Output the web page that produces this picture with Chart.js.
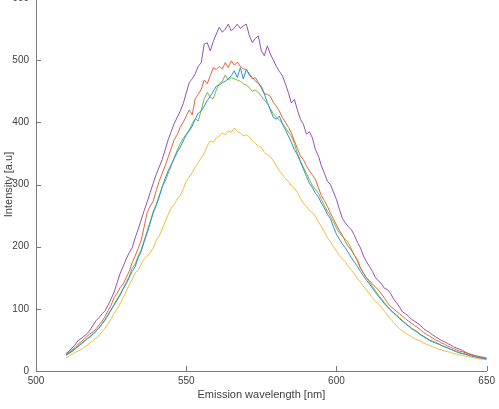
<!DOCTYPE html>
<html>
<head>
<meta charset="utf-8">
<script src="https://cdn.jsdelivr.net/npm/chart.js@4/dist/chart.umd.min.js"></script>
<style>
html,body{margin:0;padding:0;background:#fff;overflow:hidden;}
#wrap{position:absolute;left:0;top:-15px;width:499px;height:424px;}
</style>
</head>
<body>
<div id="wrap"><canvas id="c"></canvas></div>
<script>
const wavelengths = [];
for (let w = 510; w <= 650; w++) wavelengths.push(w);

const xTicks = [500, 550, 600, 650];
const yTicks = [0, 100, 200, 300, 400, 500, 600];

const seriesPurple = [28,32,37,42,49,52,56,60,66,74,81,86,92,97,106,116,127,142,157,168,180,190,198,214,228,243,258,272,287,302,316,328,340,356,372,385,398,408,418,430,447,464,470,478,490,496,526,528,515,530,542,553,545,550,558,547,552,558,551,555,558,540,528,535,539,515,507,523,510,500,490,482,475,462,448,431,437,420,405,397,381,385,375,356,346,330,318,305,300,288,276,260,245,238,232,227,218,207,198,185,176,168,160,150,145,140,133,131,125,116,110,103,95,92,88,83,80,77,73,68,65,62,58,55,52,49,47,44,42,39,37,35,33,30,28,26,25,23,22,21,20];

const seriesOrange = [27,30,34,38,43,47,51,56,60,63,68,74,80,88,97,106,118,125,134,140,150,160,174,185,197,210,232,255,265,273,290,305,318,330,344,358,372,380,392,400,410,420,412,438,445,453,468,462,475,488,485,490,486,496,488,499,492,497,490,486,485,476,470,472,464,455,446,445,442,432,426,418,408,400,392,383,370,358,346,340,330,322,315,308,295,282,274,265,254,245,235,226,218,208,200,194,186,179,166,157,150,145,140,135,130,124,117,110,104,100,96,92,88,84,80,77,73,70,66,62,59,56,53,50,48,45,43,40,38,36,34,32,31,29,28,26,25,24,23,22,21];

const seriesBlue = [26,29,32,36,40,44,48,52,55,59,64,69,76,82,90,98,106,114,122,132,140,150,160,168,182,192,208,222,238,254,266,280,296,310,322,332,342,352,360,370,380,386,394,405,415,418,426,435,442,450,458,460,464,466,470,475,483,472,488,470,485,478,472,467,462,458,446,432,420,408,405,410,398,388,378,368,356,348,337,325,313,302,295,286,280,270,262,252,245,232,220,212,204,198,190,182,175,168,160,153,146,140,133,126,120,114,108,103,98,93,89,84,80,76,72,68,65,62,58,55,52,49,47,45,43,41,39,37,35,33,31,29,28,27,25,24,23,22,21,20,19];

const seriesGreen = [25,28,31,35,39,43,47,51,56,60,65,70,76,83,91,99,107,116,124,133,142,152,165,172,185,195,210,225,240,256,268,282,296,305,318,330,343,355,366,374,381,388,398,406,402,420,438,448,440,438,452,462,466,476,468,472,470,468,466,462,460,456,450,452,448,442,436,430,422,414,408,404,398,392,384,378,366,350,338,328,318,308,298,292,286,276,266,257,249,240,230,222,216,212,206,196,186,176,165,158,150,143,136,129,122,116,110,104,99,94,90,86,81,77,73,69,66,63,59,56,53,50,48,46,44,41,39,37,35,33,31,30,28,27,26,25,23,22,21,20,20];

const seriesYellow = [21,24,27,30,32,35,38,41,45,49,53,57,63,69,76,84,93,100,108,118,128,138,147,158,162,172,180,185,190,198,210,217,228,240,252,262,268,277,282,293,305,312,319,328,335,343,350,362,370,368,375,378,383,380,386,384,391,385,383,378,380,377,370,366,362,360,352,348,345,338,330,322,316,310,305,298,294,287,278,270,265,258,255,249,240,232,224,214,208,200,193,186,180,175,168,162,156,148,143,136,130,124,118,112,108,102,96,90,84,78,73,68,64,61,58,55,52,50,48,45,43,41,39,37,35,34,32,31,30,28,27,26,25,24,23,22,21,20,19,19,18];

function pts(vals){ return vals.map((v,i)=>({x:wavelengths[i], y:v})); }

const series = [
  {name:'S1', data:seriesBlue,   color:'#2f8fd2'},
  {name:'S2', data:seriesOrange, color:'#e0663c'},
  {name:'S3', data:seriesYellow, color:'#f0bd3e'},
  {name:'S4', data:seriesPurple, color:'#9650b0'},
  {name:'S5', data:seriesGreen,  color:'#7ab844'}
];

const axisColor = '#7a7a7a';
const textColor = '#404040';
const fontFamily = '"Liberation Sans", Arial, sans-serif';

const inwardTicks = {
  id:'inwardTicks',
  afterDraw(chart){
    const ctx = chart.ctx, xs = chart.scales.x, ys = chart.scales.y;
    const a = chart.chartArea;
    ctx.save();
    ctx.strokeStyle = axisColor; ctx.lineWidth = 1;
    ctx.beginPath();
    xTicks.forEach(v=>{ const px = Math.round(xs.getPixelForValue(v))+0.5; ctx.moveTo(px, a.bottom); ctx.lineTo(px, a.bottom-5); });
    yTicks.forEach(v=>{ const py = Math.round(ys.getPixelForValue(v))+0.5; ctx.moveTo(a.left, py); ctx.lineTo(a.left+5, py); });
    ctx.stroke();
    ctx.restore();
  }
};

new Chart(document.getElementById('c'), {
  type:'line',
  data:{ datasets: series.map(s=>({label:s.name, data:pts(s.data), borderColor:s.color, borderWidth:1, pointRadius:0, fill:false, tension:0})) },
  options:{
    responsive:true, maintainAspectRatio:false, animation:false,
    layout:{padding:{top:10,right:10,left:0,bottom:0}},
    plugins:{legend:{display:false}, tooltip:{enabled:false}},
    scales:{
      x:{type:'linear', min:500, max:650,
        afterBuildTicks(s){ s.ticks = xTicks.map(v=>({value:v})); },
        afterFit(s){ s.height = 38; },
        grid:{display:false, drawTicks:false, tickLength:0}, border:{display:true,color:axisColor,width:1},
        ticks:{color:textColor, font:{family:fontFamily,size:10}, padding:4, maxRotation:0},
        title:{display:true, text:'Emission wavelength [nm]', color:textColor, font:{family:fontFamily,size:11}, padding:{top:9,bottom:7}}
      },
      y:{type:'linear', min:0, max:600,
        afterBuildTicks(s){ s.ticks = yTicks.map(v=>({value:v})); },
        afterFit(s){ s.width = 36; },
        grid:{display:false, drawTicks:false, tickLength:0}, border:{display:true,color:axisColor,width:1},
        ticks:{color:textColor, font:{family:fontFamily,size:10}, padding:7},
        title:{display:true, text:'Intensity [a.u]', color:textColor, font:{family:fontFamily,size:11}, padding:{top:2,bottom:0}}
      }
    }
  },
  plugins:[inwardTicks]
});
</script>
</body>
</html>
